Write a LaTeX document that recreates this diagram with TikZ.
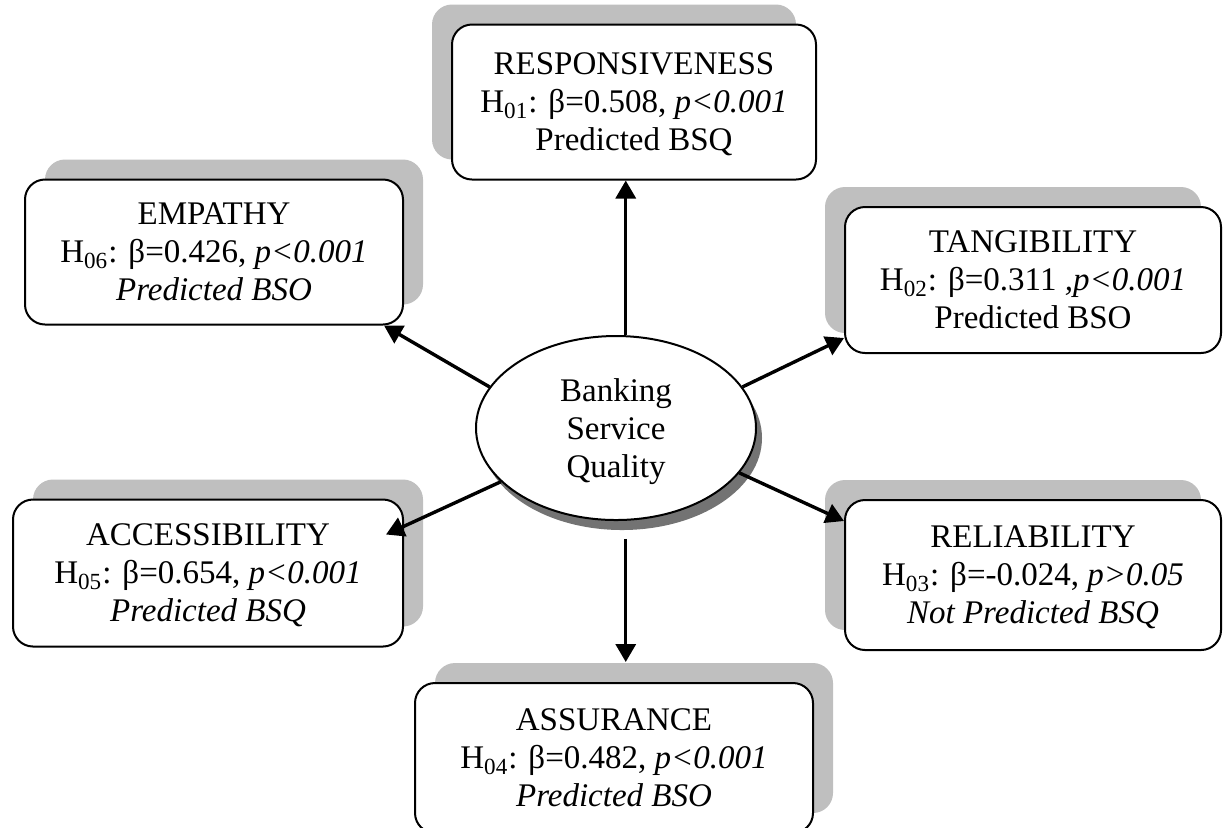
\documentclass[tikz,border=0pt]{standalone}
\usepackage{fontspec}
\setmainfont{Liberation Serif}
\usetikzlibrary{arrows.meta,shadows,shapes.geometric}

\begin{document}
\begin{tikzpicture}[x=0.5pt,y=-0.5pt,line width=1pt,>={Triangle[length=9pt,width=10pt]},
  hyp/.style={draw,fill=white,rounded corners=10pt,inner sep=0pt,align=center,
    execute at begin node={\rule{0pt}{25pt}},text depth=-4pt,font=\fontsize{16.5}{19}\selectfont},
  shL/.style={drop shadow={shadow xshift=-10pt,shadow yshift=10pt,opacity=1,fill=black!25}},
  shR/.style={drop shadow={shadow xshift=10pt,shadow yshift=10pt,opacity=1,fill=black!25}},
  link/.style={->,line width=1.7pt}]
  \useasboundingbox (0,0) rectangle (1224,827);
  \clip (0,0) rectangle (1224,827);
  % constructo central
  \node[ellipse,draw,fill=white,minimum width=140pt,minimum height=92pt,inner sep=0pt,align=center,
    execute at begin node={\rule{0pt}{25pt}},text depth=-4pt,font=\fontsize{16.5}{19}\selectfont,
    drop shadow={shadow xshift=3pt,shadow yshift=-5pt,opacity=1,fill=black!55}] (bsq) at (616,428) {Banking\\Service\\Quality};
  % dimensiones
  \node[hyp,shL,minimum width=182pt,minimum height=77.5pt] (resp) at (634,102) {RESPONSIVENESS\\H\textsubscript{01}: β=0.508, \textit{p<0.001}\\Predicted BSQ};
  \node[hyp,shL,minimum width=188pt,minimum height=73pt] (tang) at (1033,280) {TANGIBILITY\\H\textsubscript{02}: β=0.311 \textit{,p<0.001}\\Predicted BSO};
  \node[hyp,shL,minimum width=188pt,minimum height=75pt] (reli) at (1033,575) {RELIABILITY\\H\textsubscript{03}: β=-0.024, \textit{p>0.05}\\\textit{Not Predicted BSQ}};
  \node[hyp,shR,minimum width=199pt,minimum height=75pt] (assur) at (614,758) {ASSURANCE\\H\textsubscript{04}: β=0.482, \textit{p<0.001}\\\textit{Predicted BSO}};
  \node[hyp,shR,minimum width=195pt,minimum height=73.5pt] (acc) at (208,573) {ACCESSIBILITY\\H\textsubscript{05}: β=0.654, \textit{p<0.001}\\\textit{Predicted BSQ}};
  \node[hyp,shR,minimum width=189pt,minimum height=72.5pt] (emp) at (214,252) {EMPATHY\\H\textsubscript{06}: β=0.426, \textit{p<0.001}\\\textit{Predicted BSO}};
  % flechas
  \draw[link] (bsq.84) -- (bsq.84 |- resp.south);
  \draw[link] (bsq.18) -- ([yshift=8pt]tang.south west);
  \draw[link] (bsq.-20) -- ([yshift=-11pt]reli.north west);
  \draw[link,shorten <=9pt,shorten >=10pt] (bsq.-84) -- (bsq.-84 |- assur.north);
  \draw[link] (bsq.-155) -- ([xshift=-9pt,yshift=-18pt]acc.north east);
  \draw[link] (bsq.162) -- ([xshift=-10pt]emp.south east);
\end{tikzpicture}
\end{document}
